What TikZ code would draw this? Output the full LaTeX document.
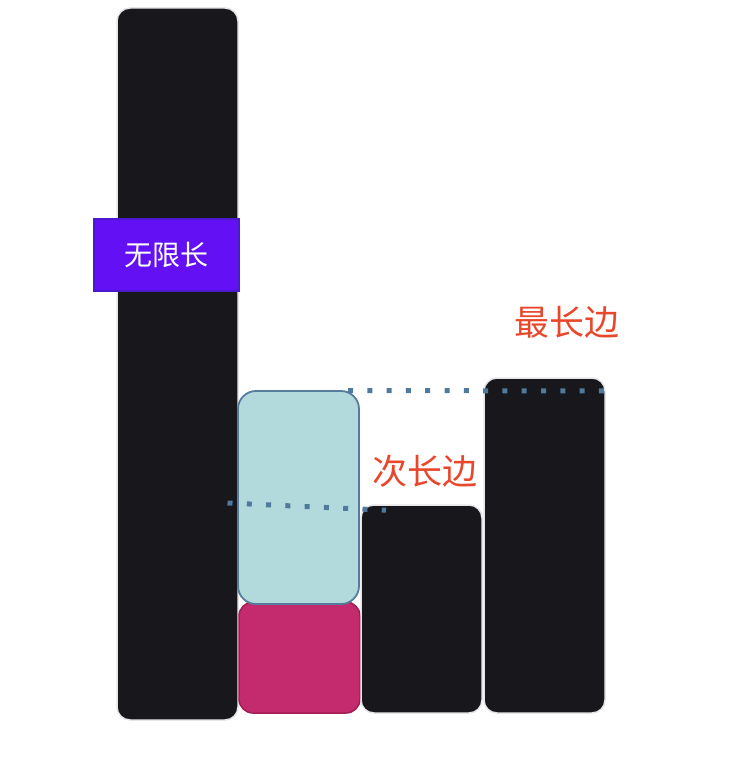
\documentclass[tikz,border=0pt]{standalone}
\usepackage{fontspec}
\newfontfamily\cjk{Noto Sans CJK SC}
\definecolor{bardark}{HTML}{18171C}
\definecolor{barrim}{HTML}{E6E6E8}
\definecolor{lblue}{HTML}{B2DADD}
\definecolor{lbluerim}{HTML}{557C9A}
\definecolor{pinkf}{HTML}{C42B6F}
\definecolor{pinkrim}{HTML}{A01E52}
\definecolor{purpf}{HTML}{6410F5}
\definecolor{purprim}{HTML}{4A1ACC}
\definecolor{dotc}{HTML}{4F7A9E}
\definecolor{redt}{HTML}{E8472C}
\begin{document}
\begin{tikzpicture}[x=1pt,y=-1pt,
  darkbar/.style={draw=barrim,line width=1.5pt,fill=bardark,rounded corners=13pt},
  bluebox/.style={draw=lbluerim,line width=1.8pt,fill=lblue,rounded corners=18pt},
  pinkbox/.style={draw=pinkrim,line width=1.5pt,fill=pinkf,rounded corners=14pt},
  tagbox/.style={draw=purprim,line width=1.5pt,fill=purpf,text=white,font=\cjk\fontsize{28}{30}\selectfont,inner sep=0pt},
  redlbl/.style={text=redt,font=\cjk\fontsize{35}{38}\selectfont,inner sep=0pt},
  dotline/.style={draw=dotc,line width=5pt,dash pattern=on 5pt off 14.3pt}]
\useasboundingbox (0,0) rectangle (736,762);
% bars
\path[darkbar] (117,8) rectangle (238,720);
\node[inner sep=0pt,minimum size=0pt] (b1) at (177.5,364) {};
\path[pinkbox] (239,602) rectangle (360,713);
\node[inner sep=0pt] (pk) at (299.5,657.5) {};
\path[bluebox] (238,391) rectangle (359,604);
\node[inner sep=0pt] (bl) at (298.5,497.5) {};
\path[darkbar] (361,505) rectangle (482,713);
\node[inner sep=0pt] (b3) at (421.5,609) {};
\path[darkbar] (484,378) rectangle (605,713);
\node[inner sep=0pt] (b4) at (544.5,545.5) {};
% tag
\node[tagbox,minimum width=145pt,minimum height=72pt] (tag) at (166.5,255) {无限长};
% labels
\node[redlbl] (l2) at (425,471) {次长边};
\node[redlbl] (l1) at (567,322) {最长边};
% dotted guides
\coordinate (d1a) at (348,390.5);
\coordinate (d1b) at (606,391);
\coordinate (d2a) at (227.5,503);
\coordinate (d2b) at (386,510.2);
\draw[dotline] (d1a) -- (d1b);
\draw[dotline] (d2a) -- (d2b);
\end{tikzpicture}
\end{document}
